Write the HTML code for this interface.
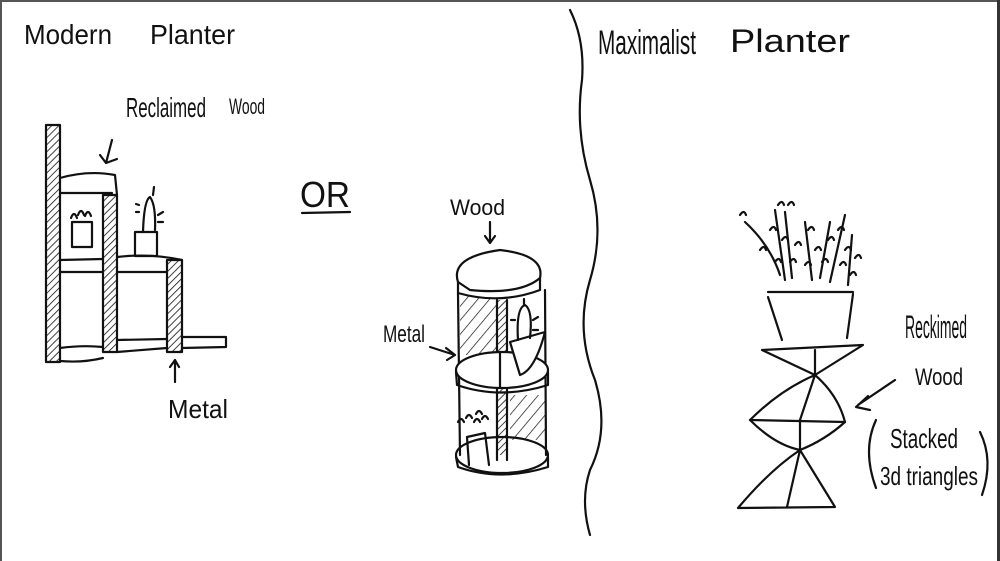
<!DOCTYPE html>
<html><head><style>
html,body{margin:0;padding:0;background:#fff;}
svg{display:block;}
text{font-family:"Liberation Sans",sans-serif;fill:#111;}
</style></head><body>
<svg width="1000" height="561" viewBox="0 0 1000 561" xmlns="http://www.w3.org/2000/svg">
<defs>
<pattern id="h" width="5" height="5" patternUnits="userSpaceOnUse" patternTransform="rotate(45)">
<line x1="0" y1="0" x2="0" y2="5" stroke="#111" stroke-width="1.6"/>
</pattern>
<pattern id="h2" width="9" height="9" patternUnits="userSpaceOnUse" patternTransform="rotate(40)">
<line x1="0" y1="0" x2="0" y2="9" stroke="#111" stroke-width="1.4"/>
</pattern>
</defs>
<rect x="0" y="0" width="1000" height="561" fill="#fff"/>
<rect x="0" y="0" width="1000" height="2" fill="#555"/>
<rect x="0" y="0" width="2" height="561" fill="#555"/>
<rect x="997" y="0" width="3" height="561" fill="#333"/>

<g stroke="#111" stroke-width="2.2" fill="none" stroke-linecap="round" stroke-linejoin="round">
<rect x="46" y="125" width="14" height="237" fill="url(#h)"/>
<path d="M60 178 Q88 170 115 175 L117 195"/>
<line x1="60" y1="193" x2="112" y2="193"/>
<rect x="103" y="195" width="14" height="157" fill="url(#h)"/>
<line x1="60" y1="260" x2="103" y2="259"/>
<line x1="60" y1="272" x2="103" y2="272"/>
<path d="M60 348 Q82 345 103 347"/>
<path d="M60 361 Q82 363 103 358"/>
<rect x="72" y="222" width="20" height="25"/>
<path d="M71 218 q3 -8 6 0 M78 215 q3 -8 6 0 M85 216 q3 -8 6 0"/>
<rect x="135" y="232" width="22" height="24"/>
<path d="M143 232 Q144 200 150 197 Q156 205 155 230 M139 212 l-3 0 M139 205 l-3 -1 M158 215 l5 -3 M158 222 l5 0 M153 195 l1 -8"/>
<path d="M117 257 Q150 253 182 260"/>
<line x1="117" y1="272" x2="167" y2="272"/>
<rect x="167" y="260" width="15" height="92" fill="url(#h)"/>
<path d="M117 340 L167 339 M117 352 L167 348"/>
<path d="M182 337 L226 337 L226 347 L182 348"/>
<path d="M112 140 L106 163 M100 155 L106 163 L117 159"/>
<path d="M175 382 L175 360 M170 367 L175 360 L179 367"/>
<path d="M350 212 L302 213"/>
<path d="M490 222 L490 243 M485 236 L490 243 L495 236"/>
<path d="M458 282 Q450 257 500 250 Q545 255 540 278 Q520 295 470 290 Z"/>
<path d="M458 282 L458 293 Q500 305 540 290 L540 278"/>
<path d="M458 293 L460 455"/>
<path d="M545 290 L546 455"/>
<polygon points="460,295 497,300 497,355 460,355" fill="url(#h2)" stroke="none"/>
<rect x="497" y="300" width="10" height="155" fill="url(#h)" stroke="none"/>
<line x1="497" y1="300" x2="497" y2="460"/>
<line x1="507" y1="300" x2="507" y2="460"/>
<polygon points="510,395 545,395 545,440 510,440" fill="url(#h2)" stroke="none"/>
<ellipse cx="502" cy="370" rx="46" ry="18" fill="#fff"/>
<path d="M456 372 L457 385 Q500 400 548 385 L548 372"/>
<line x1="500" y1="352" x2="500" y2="388"/>
<path d="M510 342 L545 332 Q535 370 520 375 Z" fill="#fff"/>
<path d="M518 340 Q516 308 525 305 Q533 310 530 338 M515 320 l-4 0 M533 320 l5 -3 M533 330 l5 0 M524 305 l0 -6"/>
<ellipse cx="502" cy="455" rx="46" ry="18"/>
<path d="M456 457 L458 467 Q500 482 548 467 L548 457"/>
<path d="M467 437 L469 465 M485 433 L489 465 M467 437 L485 433"/>
<path d="M458 422 q3 -6 6 0 M466 418 q3 -6 6 0 M474 422 q3 -6 6 0 M482 419 q3 -6 6 0 M476 414 q3 -6 6 0"/>
<path d="M430 347 L455 355 M446 348 L455 355 L447 360"/>
<path d="M570 10 Q585 40 582 80 Q575 130 590 180 Q605 230 590 280 Q575 330 595 380 Q610 430 590 470 Q580 500 590 535"/>
<path d="M768 292 L853 292 M768 297 L782 340 M853 294 L847 338"/>
<path d="M762 350 L863 345 L815 375 Z M815 350 L815 375"/>
<path d="M815 375 Q780 390 750 420 L845 422 Q838 395 815 375 M815 375 L800 420"/>
<path d="M750 420 Q775 445 800 450 Q825 440 845 422 M800 420 L800 450"/>
<path d="M800 450 Q770 470 738 508 L835 507 Z M800 450 L787 507"/>
<path d="M745 222 Q770 245 780 275 M775 210 L785 280 M785 212 L792 278 M805 222 L812 280 M830 222 L820 278 M845 215 L830 282 M852 235 L848 285"/>
<path d="M778 205 q4 -6 6 0 M788 205 q4 -6 6 0 M770 230 q4 -6 6 0 M782 240 q4 -6 6 0 M795 245 q4 -6 6 0 M808 230 q4 -6 6 0 M815 250 q4 -6 6 0 M828 240 q4 -6 6 0 M838 230 q4 -6 6 0 M845 250 q4 -6 6 0 M775 262 q4 -6 6 0 M790 262 q4 -6 6 0 M805 265 q4 -6 6 0 M822 262 q4 -6 6 0 M840 265 q4 -6 6 0 M855 258 q4 -6 6 0 M760 250 q4 -6 6 0 M850 275 q4 -6 6 0 M740 215 q4 -6 6 0"/>
<path d="M895 380 L858 405 M868 396 L856 407 L870 410"/>
<path d="M876 420 Q862 450 876 488"/>
<path d="M980 432 Q994 460 982 495"/>
</g>

<g stroke="none">
<text x="24" y="44" font-size="28" textLength="88" lengthAdjust="spacingAndGlyphs">Modern</text>
<text x="150" y="44" font-size="28" textLength="85" lengthAdjust="spacingAndGlyphs">Planter</text>
<text x="126" y="117" font-size="28" textLength="80" lengthAdjust="spacingAndGlyphs">Reclaimed</text>
<text x="229" y="114" font-size="22" textLength="36" lengthAdjust="spacingAndGlyphs">Wood</text>
<text x="300" y="207" font-size="36" textLength="50" lengthAdjust="spacingAndGlyphs">OR</text>
<text x="168" y="418" font-size="26" textLength="60" lengthAdjust="spacingAndGlyphs">Metal</text>
<text x="450" y="215" font-size="22" textLength="55" lengthAdjust="spacingAndGlyphs">Wood</text>
<text x="383" y="342" font-size="24" textLength="42" lengthAdjust="spacingAndGlyphs">Metal</text>
<text x="598" y="54" font-size="34" textLength="98" lengthAdjust="spacingAndGlyphs">Maximalist</text>
<text x="730" y="52" font-size="32" textLength="120" lengthAdjust="spacingAndGlyphs">Planter</text>
<text x="905" y="338" font-size="32" textLength="62" lengthAdjust="spacingAndGlyphs">Reckimed</text>
<text x="915" y="385" font-size="24" textLength="48" lengthAdjust="spacingAndGlyphs">Wood</text>
<text x="890" y="448" font-size="28" textLength="68" lengthAdjust="spacingAndGlyphs">Stacked</text>
<text x="880" y="485" font-size="26" textLength="98" lengthAdjust="spacingAndGlyphs">3d triangles</text>
</g>
</svg>
</body></html>
